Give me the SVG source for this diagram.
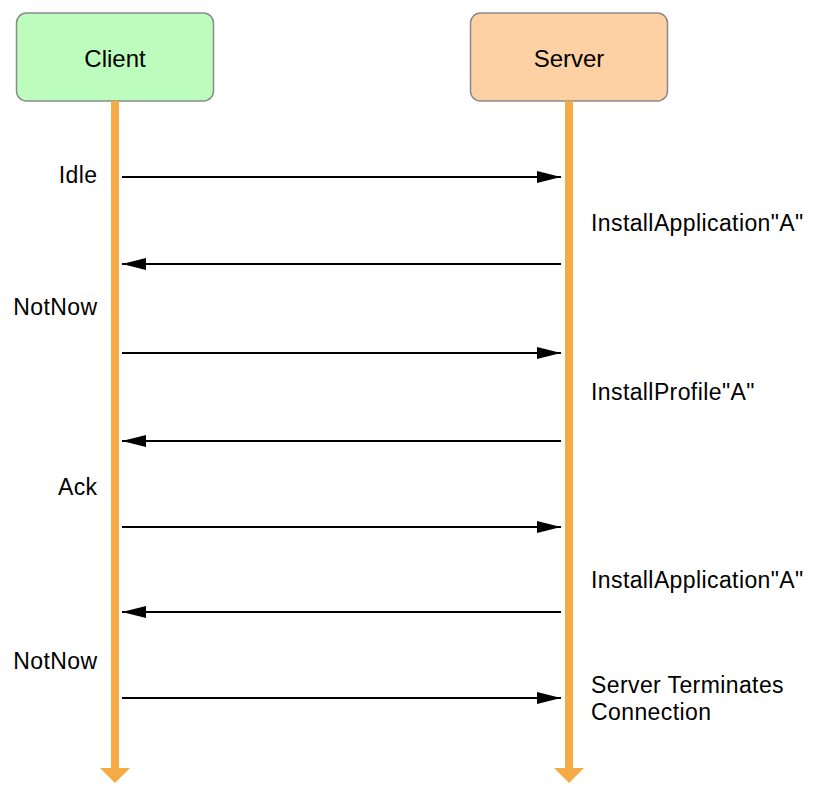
<svg xmlns="http://www.w3.org/2000/svg" width="815" height="801" viewBox="0 0 815 801">
<style>
.box{stroke:#8a8a8a;stroke-width:1.5}
.life{stroke:#f6aa45;stroke-width:8}
.head{fill:#f6aa45}
.msg{stroke:#000;stroke-width:2;fill:none}
text{font-family:"Liberation Sans",Arial,sans-serif;font-size:23px;letter-spacing:0.4px;fill:#000}
.nl{font-size:24px;letter-spacing:0;text-anchor:middle}
.l{text-anchor:end}
</style>
<defs>
<marker id="ah" markerWidth="24" markerHeight="12" refX="24" refY="6" orient="auto" markerUnits="userSpaceOnUse">
<path d="M0,0 L24,6 L0,12 Z" fill="#000"/>
</marker>
</defs>
<g id="client">
<rect class="box" x="16.5" y="13" width="197" height="88" rx="10" fill="#bcfcbc"/>
<text class="nl" x="115" y="67">Client</text>
<line class="life" x1="115" y1="101" x2="115" y2="769"/>
<polygon class="head" points="100,768 130,768 115,783"/>
</g>
<g id="server">
<rect class="box" x="470.5" y="13" width="197" height="88" rx="10" fill="#fed1a4"/>
<text class="nl" x="569" y="67">Server</text>
<line class="life" x1="569" y1="101" x2="569" y2="769"/>
<polygon class="head" points="554,768 584,768 569,783"/>
</g>
<g id="connectors">
<line class="msg" x1="122" y1="177" x2="561" y2="177" marker-end="url(#ah)"/>
<line class="msg" x1="561" y1="264" x2="122" y2="264" marker-end="url(#ah)"/>
<line class="msg" x1="122" y1="353" x2="561" y2="353" marker-end="url(#ah)"/>
<line class="msg" x1="561" y1="441" x2="122" y2="441" marker-end="url(#ah)"/>
<line class="msg" x1="122" y1="527" x2="561" y2="527" marker-end="url(#ah)"/>
<line class="msg" x1="561" y1="612" x2="122" y2="612" marker-end="url(#ah)"/>
<line class="msg" x1="122" y1="698" x2="561" y2="698" marker-end="url(#ah)"/>
</g>
<g id="labels">
<text class="l" x="97.5" y="183">Idle</text>
<text x="591" y="231">InstallApplication"A"</text>
<text class="l" x="97.5" y="315">NotNow</text>
<text x="591" y="400">InstallProfile"A"</text>
<text class="l" x="97.5" y="495">Ack</text>
<text x="591" y="588">InstallApplication"A"</text>
<text class="l" x="97.5" y="669">NotNow</text>
<text x="591" y="693">Server Terminates</text>
<text x="591" y="720">Connection</text>
</g>
</svg>
